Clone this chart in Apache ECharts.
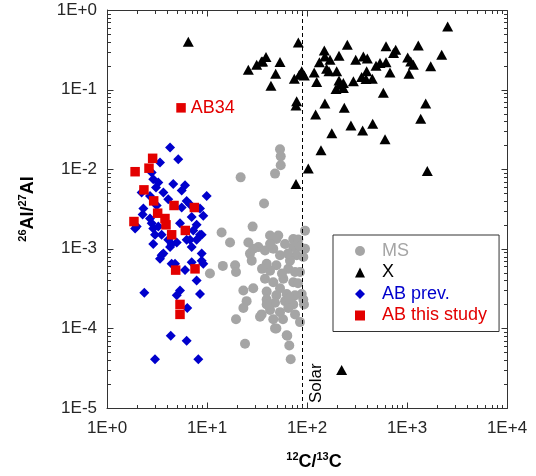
<!DOCTYPE html>
<html>
<head>
<meta charset="utf-8">
<script src="https://cdn.jsdelivr.net/npm/echarts@6/dist/echarts.min.js"></script>
<style>
  html, body { margin: 0; padding: 0; background: #fff; }
  #chart { width: 536px; height: 476px; }
</style>
</head>
<body>
<div id="chart"></div>
<script>
// Axis tick labels (one per decade)
const xTickLabels = ['1E+0', '1E+1', '1E+2', '1E+3', '1E+4'];
const yTickLabels = ['1E-5', '1E-4', '1E-3', '1E-2', '1E-1', '1E+0'];

// Solar 12C/13C reference value
const solarRatio = 89;

// Mainstream grains (MS)
const msX = [53.7, 54.6, 54.6, 47.9, 21.7, 37.2, 14.0, 28.6, 17.0, 25.9, 32.6, 42.7, 51.6, 49.4, 72.9, 81.9, 95.5, 95.5,
  26.9, 28.0, 14.4, 10.7, 19.1, 19.5, 23.1, 29.0, 24.9, 23.1, 19.5, 33.9, 24.0, 49.4, 63.5, 66.5, 68.7, 85.1, 93.3, 85.1,
  88.5, 29.0, 38.0, 46.0, 53.7, 72.9, 78.8, 91.8, 39.5, 49.4, 65.0, 75.9, 38.0, 46.0, 58.0, 72.9, 39.5, 49.4, 62.7, 75.9,
  91.8, 39.5, 47.9, 60.3, 72.9, 35.2, 42.7, 53.7, 65.0, 47.9, 62.7, 39.5, 46.0, 42.7, 60.3, 67.6, 56.2, 42.7, 81.3, 53.7,
  67.6, 57.5, 75.9, 35.5, 85.1, 64.6];
const msY = [0.0178, 0.0145, 0.0112, 0.0088, 0.0079, 0.0037, 0.0016, 0.0019, 0.0012, 0.0012, 0.00105, 0.00147, 0.00147,
  0.00133, 0.00133, 0.00131, 0.00169, 0.001, 0.00087, 0.00071, 0.00061, 0.00049, 0.00062, 0.00051, 0.0003, 0.00032,
  0.00022, 0.00018, 0.00013, 0.00014, 0.000064, 0.0001, 0.000081, 0.000061, 0.000041, 0.00012, 0.0002, 0.00051, 0.00027,
  0.001, 0.00095, 0.001, 0.00083, 0.00105, 0.00083, 0.00079, 0.00065, 0.00062, 0.00056, 0.00051, 0.00042, 0.00038,
  0.00042, 0.00038, 0.00029, 0.00026, 0.00027, 0.00026, 0.00023, 0.00023, 0.00021, 0.00022, 0.0002, 0.00015, 0.00017,
  0.00016, 0.00018, 0.0001, 0.000082, 0.0002, 0.00013, 0.00115, 0.00115, 0.00071, 0.00049, 0.00053, 0.00037, 0.00032,
  0.00024, 0.00013, 0.00015, 0.00056, 0.00106, 0.00087];

// X grains
const xgX = [2550, 81.9, 253, 617, 1297, 771, 734, 149, 151, 209, 170, 133, 307, 366, 401, 1016, 1089, 2223, 1726, 1157,
  617, 537, 490, 676, 1047, 395, 352, 389, 450, 291, 198, 166, 157, 118, 125, 209, 214, 231, 195, 88.5, 83.8, 74.7, 94,
  53.7, 48.6, 43.6, 38.9, 36, 580, 1538, 78.8, 77.6, 151, 236, 122, 1371, 275, 360, 454, 177, 603, 138, 103, 1596, 77.6,
  6.5, 25.9, 31.4, 35, 231, 222];
const xgY = [0.62, 0.39, 0.365, 0.35, 0.358, 0.316, 0.288, 0.31, 0.26, 0.266, 0.237, 0.22, 0.237, 0.26, 0.246, 0.254,
  0.226, 0.274, 0.196, 0.205, 0.22, 0.216, 0.2, 0.164, 0.158, 0.17, 0.144, 0.136, 0.137, 0.127, 0.17, 0.17, 0.183, 0.164,
  0.125, 0.13, 0.115, 0.105, 0.102, 0.17, 0.154, 0.137, 0.15, 0.222, 0.158, 0.112, 0.256, 0.226, 0.091, 0.067, 0.0715,
  0.063, 0.067, 0.059, 0.0487, 0.043, 0.0355, 0.0307, 0.0373, 0.0282, 0.0237, 0.0173, 0.0102, 0.0095, 0.0065,
  0.40, 0.178, 0.205, 0.226, 0.121, 0.00003];

// AB grains, previous studies
const abPrevX = [4.27, 5.16, 3.39, 2.80, 3.26, 3.09, 4.60, 6.03, 5.58, 9.93, 2.22, 2.69, 3.66, 4.10, 6.26, 2.31, 2.27,
  3.14, 5.58, 6.76, 8.51, 7.03, 9.18, 2.69, 2.80, 2.90, 3.26, 1.98, 5.37, 7.88, 7.29, 8.85, 7.88, 6.26, 4.98, 3.52, 4.10,
  2.90, 4.27, 7.03, 8.85, 3.66, 3.39, 4.43, 8.85, 7.03, 1.91, 3.52, 4.79, 6.03, 9.18, 7.88, 2.36, 5.37, 4.98, 8.51, 6.35,
  4.34, 6.26, 3.02, 8.19, 3.02, 8.51, 6.76, 4.43, 2.90];
const abPrevY = [0.0187, 0.0133, 0.0121, 0.0091, 0.0068, 0.0059, 0.0065, 0.0063, 0.0054, 0.0046, 0.0051, 0.0046, 0.0051,
  0.0042, 0.0040, 0.0032, 0.0027, 0.0035, 0.0033, 0.0036, 0.0032, 0.0025, 0.0026, 0.0024, 0.0021, 0.0018, 0.0019, 0.0019,
  0.0021, 0.0020, 0.0017, 0.0015, 0.0013, 0.0013, 0.0012, 0.0015, 0.0013, 0.00115, 0.00105, 0.00105, 0.00087, 0.00087,
  0.00075, 0.00065, 0.00071, 0.00068, 0.0018, 0.00083, 0.00065, 0.00054, 0.00065, 0.0004, 0.00028, 0.0003, 0.00026,
  0.00027, 0.00018, 0.000081, 0.00007, 0.000041, 0.000041, 0.0015, 0.0015, 0.0013, 0.00115, 0.0075];

// AB grains, this study (first grain is AB34)
const abNewNames = ['AB34'];
const abNewX = [5.5, 1.91, 2.63, 2.86, 2.34, 2.93, 4.68, 7.47, 1.86, 3.21, 3.80, 3.89, 6.07, 4.43, 4.86, 7.59, 5.37, 5.37];
const abNewY = [0.059, 0.0093, 0.0103, 0.0137, 0.0055, 0.0040, 0.0035, 0.0033, 0.0022, 0.0028, 0.0024, 0.0020, 0.0017,
  0.0015, 0.00054, 0.00056, 0.00020, 0.00015];

const GRAY = '#a5a5a5', BLACK = '#000000', BLUE = '#0000cc', RED = '#e30000';
const AXIS = '#333333';
const FONT = "'Liberation Sans', Arial, sans-serif";

const X_MIN = 1, X_MAX = 10000, Y_MIN = 1e-5, Y_MAX = 1;

const zip = (xs, ys) => xs.map((x, i) => [x, ys[i]]);

// Tick positions: decades (major) and 2..9 within each decade (minor)
const MAJOR_LEN = 6, MINOR_LEN = 3.5;
const minorSteps = [2, 3, 4, 5, 6, 7, 8, 9];
const xTicks = [], yTicks = []; // [value, isMajor]
for (let d = X_MIN; d <= X_MAX; d *= 10) {
  xTicks.push([d, true]);
  if (d < X_MAX) minorSteps.forEach(m => xTicks.push([d * m, false]));
}
for (let e = -5; e <= 0; e++) {
  const d = Math.pow(10, e);
  yTicks.push([d, true]);
  if (e < 0) minorSteps.forEach(m => yTicks.push([m * d, false]));
}

const decade = v => Math.round(Math.log10(v));

const titleRich = {
  b: { fontSize: 18, fontWeight: 'bold', color: '#000', fontFamily: FONT, lineHeight: 22 },
  sup: { fontSize: 11, fontWeight: 'bold', color: '#000', fontFamily: FONT, verticalAlign: 'top', lineHeight: 22 }
};

const chart = echarts.init(document.getElementById('chart'), null, { renderer: 'canvas' });

chart.setOption({
  animation: false,
  backgroundColor: '#fff',
  grid: { left: 107, right: 29, top: 10, bottom: 67, containLabel: false },
  xAxis: {
    type: 'log', logBase: 10, min: X_MIN, max: X_MAX,
    splitLine: { show: false },
    axisLine: { show: true, lineStyle: { color: AXIS, width: 1 } },
    axisTick: { show: false },
    axisLabel: {
      fontSize: 17, color: '#262626', fontFamily: FONT, margin: 12,
      formatter: v => xTickLabels[decade(v)]
    },
    name: '{sup|12}{b|C/}{sup|13}{b|C}',
    nameLocation: 'middle', nameGap: 43,
    nameTextStyle: { rich: titleRich, padding: [0, 0, 0, 14] }
  },
  yAxis: {
    type: 'log', logBase: 10, min: Y_MIN, max: Y_MAX,
    splitLine: { show: false },
    axisLine: { show: true, lineStyle: { color: AXIS, width: 1 } },
    axisTick: { show: false },
    axisLabel: {
      fontSize: 17, color: '#262626', fontFamily: FONT, margin: 10,
      formatter: v => yTickLabels[decade(v) + 5]
    },
    name: '{sup|26}{b|Al/}{sup|27}{b|Al}',
    nameLocation: 'middle', nameRotate: 90, nameGap: 68,
    nameTextStyle: { rich: titleRich }
  },
  legend: {
    orient: 'vertical',
    left: 333, top: 235,
    padding: [7, 12, 7, 22],
    itemGap: 3.5,
    itemWidth: 10, itemHeight: 10,
    borderColor: AXIS, borderWidth: 1,
    selectedMode: false,
    textStyle: { fontSize: 18, fontFamily: FONT, lineHeight: 18, padding: [0, 0, 0, 12] },
    data: [
      { name: 'MS', icon: 'circle', textStyle: { color: GRAY } },
      { name: 'X', icon: 'triangle', textStyle: { color: BLACK } },
      { name: 'AB prev.', icon: 'diamond', textStyle: { color: BLUE } },
      { name: 'AB this study', icon: 'rect', textStyle: { color: RED } }
    ]
  },
  series: [
    {
      name: 'MS', type: 'scatter', symbol: 'circle', symbolSize: 10,
      itemStyle: { color: GRAY, opacity: 1 },
      data: zip(msX, msY),
      markLine: {
        silent: true, symbol: 'none', animation: false,
        lineStyle: { color: '#000', type: [4, 3], width: 1 },
        label: {
          show: true, formatter: 'Solar', position: 'insideStartBottom',
          fontSize: 17, fontFamily: FONT, color: '#000', distance: [5, 6]
        },
        data: [{ xAxis: solarRatio }]
      }
    },
    {
      name: 'X', type: 'scatter', symbol: 'triangle', symbolSize: [11, 10],
      itemStyle: { color: BLACK, opacity: 1 },
      data: zip(xgX, xgY)
    },
    {
      name: 'AB prev.', type: 'scatter', symbol: 'diamond', symbolSize: 10,
      itemStyle: { color: BLUE, opacity: 1 },
      data: zip(abPrevX, abPrevY)
    },
    {
      name: 'AB this study', type: 'scatter', symbol: 'rect', symbolSize: 9.5,
      itemStyle: { color: RED, opacity: 1 },
      data: abNewX.map((x, i) => {
        const item = { value: [x, abNewY[i]] };
        if (abNewNames[i]) {
          item.label = {
            show: true, formatter: abNewNames[i], position: 'right', distance: 5,
            fontSize: 18, fontFamily: FONT, color: RED
          };
        }
        return item;
      })
    }
  ]
});

// Plot frame and inward log ticks on all four sides, placed through the axis scales
function drawFrame() {
  const px = p => chart.convertToPixel({ gridIndex: 0 }, p);
  const snap = v => Math.round(v) + 0.5;
  const line = (x1, y1, x2, y2) => ({
    type: 'line', silent: true, z: 50,
    shape: { x1, y1, x2, y2 }, style: { stroke: AXIS, lineWidth: 1 }
  });
  const bl = px([X_MIN, Y_MIN]), tr = px([X_MAX, Y_MAX]);
  const left = snap(bl[0]), bottom = snap(bl[1]), right = snap(tr[0]), top = snap(tr[1]);
  const els = [
    line(left, top, right, top),
    line(right, top, right, bottom)
  ];
  xTicks.forEach(([v, major]) => {
    const len = major ? MAJOR_LEN : MINOR_LEN;
    const x = snap(px([v, Y_MIN])[0]);
    els.push(line(x, bottom, x, bottom - len));
    els.push(line(x, top, x, top + len));
  });
  yTicks.forEach(([v, major]) => {
    const len = major ? MAJOR_LEN : MINOR_LEN;
    const y = snap(px([X_MIN, v])[1]);
    els.push(line(left, y, left + len, y));
    els.push(line(right, y, right - len, y));
  });
  chart.setOption({ graphic: { elements: els } });
}
drawFrame();
</script>
</body>
</html>
